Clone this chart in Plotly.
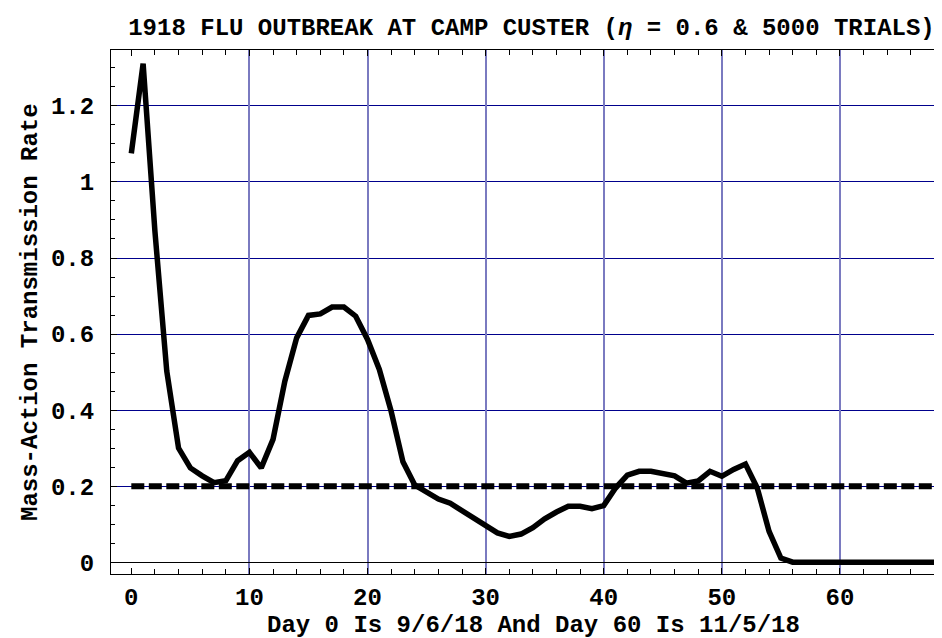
import plotly.graph_objects as go

# ---- data ----
days = list(range(0, 69))
transmission_rate = [
    1.075, 1.311, 0.870, 0.503, 0.300, 0.248, 0.227, 0.209, 0.214, 0.267,
    0.289, 0.248, 0.323, 0.476, 0.590, 0.649, 0.653, 0.671, 0.671, 0.647,
    0.586, 0.507, 0.397, 0.264, 0.203, 0.186, 0.166, 0.155, 0.135, 0.114,
    0.097, 0.077, 0.068, 0.074, 0.091, 0.114, 0.132, 0.147, 0.147, 0.141,
    0.149, 0.195, 0.229, 0.239, 0.239, 0.233, 0.227, 0.208, 0.214, 0.239,
    0.226, 0.244, 0.258, 0.195, 0.081, 0.011, 0.0, 0.0, 0.0, 0.0,
    0.0, 0.0, 0.0, 0.0, 0.0, 0.0, 0.0, 0.0, 0.0,
]
threshold_days = [0, 68]
threshold_rate = [0.2, 0.2]

x_tick_vals = [0, 10, 20, 30, 40, 50, 60]
x_grid_vals = [10, 20, 30, 40, 50, 60]
y_tick_vals = [0, 0.2, 0.4, 0.6, 0.8, 1.0, 1.2]
y_tick_text = ["0", "0.2", "0.4", "0.6", "0.8", "1", "1.2"]

title_text = "1918 FLU OUTBREAK AT CAMP CUSTER (<i>η</i> = 0.6 &amp; 5000 TRIALS)"
x_title = "Day 0 Is 9/6/18 And Day 60 Is 11/5/18"
y_title = "Mass-Action Transmission Rate"

FONT = "Liberation Mono"
W, H = 942, 638
ML, MR, MT, MB = 103, 0, 42, 72
PW, PH = W - ML - MR, H - MT - MB

fig = go.Figure()
fig.add_trace(go.Scatter(
    x=days, y=transmission_rate, mode="lines",
    line=dict(color="black", width=5.5),
    xaxis="x", yaxis="y", showlegend=False, hoverinfo="skip",
))
fig.add_trace(go.Scatter(
    x=threshold_days, y=threshold_rate, mode="lines",
    line=dict(color="black", width=6, dash="13px,4.5px"),
    xaxis="x2", yaxis="y", showlegend=False, hoverinfo="skip",
))

x_range = [-1.72, 69.32]
y_range = [-0.031, 1.347]

tick_font = dict(family=FONT, size=24, color="black", weight=700)
text_font = dict(family=FONT, size=24, color="black", weight=700)

fig.update_layout(
    width=W, height=H,
    margin=dict(l=ML, r=MR, t=MT, b=MB, pad=0),
    paper_bgcolor="white", plot_bgcolor="white",
    title=dict(
        text=title_text, font=text_font,
        x=523.5 / W, xref="container", xanchor="center",
        y=1 - 19 / H, yref="container", yanchor="middle",
    ),
    xaxis=dict(
        range=x_range, tickmode="array", tickvals=x_tick_vals,
        showgrid=False, zeroline=False,
        showline=True, linecolor="black", linewidth=1, mirror="allticks",
        ticks="inside", ticklen=6, tickcolor="black", tickwidth=1,
        minor=dict(dtick=2, tick0=0, ticks="inside", ticklen=5,
                   tickcolor="black", tickwidth=1),
        tickfont=tick_font, ticklabelstandoff=1,
    ),
    xaxis2=dict(
        overlaying="x", matches="x", range=x_range,
        tickmode="array", tickvals=x_grid_vals,
        showgrid=True, gridcolor="rgb(122,122,192)", gridwidth=2,
        zeroline=False, showline=False, ticks="", showticklabels=False,
    ),
    yaxis=dict(
        range=y_range, tickmode="array", tickvals=y_tick_vals,
        ticktext=y_tick_text,
        showgrid=True, gridcolor="rgb(0,0,140)", gridwidth=1,
        zeroline=True, zerolinecolor="black", zerolinewidth=1,
        showline=True, linecolor="black", linewidth=1, mirror=False,
        ticks="inside", ticklen=6, tickcolor="black", tickwidth=1,
        minor=dict(dtick=0.05, tick0=0, ticks="inside", ticklen=4,
                   tickcolor="black", tickwidth=1),
        tickfont=tick_font, ticklabelstandoff=11,
    ),
    annotations=[
        dict(text=x_title, xref="paper", yref="paper",
             x=(525 - ML) / PW, y=(566 - 617) / PH,
             xanchor="center", yanchor="middle", showarrow=False,
             font=text_font),
        dict(text=y_title, xref="paper", yref="paper",
             x=(22 - ML) / PW, y=0.5, textangle=-90,
             xanchor="center", yanchor="middle", showarrow=False,
             font=text_font),
    ],
)

fig.write_html("out.html")
